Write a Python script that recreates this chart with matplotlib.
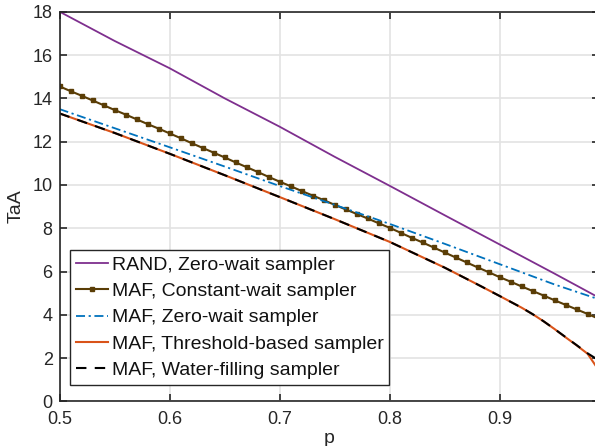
import numpy as np
import matplotlib
matplotlib.use("Agg")
import matplotlib.pyplot as plt

plt.rcParams['font.family'] = ['Liberation Sans', 'DejaVu Sans']

# ---- data ----
p_rand = [0.50, 0.55, 0.60, 0.65, 0.70, 0.75, 0.80, 0.85, 0.90, 0.95, 0.99]
taa_rand = [18.0, 16.65, 15.39, 14.0, 12.69, 11.3, 9.96, 8.6, 7.25, 5.9, 4.8]

p_const = [round(0.50 + 0.01 * i, 2) for i in range(50)]
taa_const = [14.55, 14.33, 14.12, 13.90, 13.68, 13.46, 13.25, 13.03, 12.81, 12.60,
             12.38, 12.16, 11.93, 11.71, 11.49, 11.27, 11.04, 10.82, 10.60, 10.37,
             10.15, 9.94, 9.72, 9.51, 9.30, 9.08, 8.87, 8.66, 8.45, 8.23,
             8.02, 7.79, 7.56, 7.34, 7.11, 6.88, 6.65, 6.42, 6.19, 5.97,
             5.74, 5.53, 5.31, 5.10, 4.89, 4.67, 4.46, 4.25, 4.04, 3.82]

p_zw = [0.50, 0.55, 0.60, 0.65, 0.70, 0.75, 0.80, 0.85, 0.90, 0.95, 0.99]
taa_zw = [13.5, 12.62, 11.74, 10.85, 9.95, 9.08, 8.2, 7.28, 6.34, 5.4, 4.72]

p_thr = [0.50, 0.55, 0.60, 0.65, 0.70, 0.75, 0.80, 0.85, 0.88, 0.90, 0.91,
         0.92, 0.93, 0.94, 0.95, 0.96, 0.97, 0.98, 0.99]
taa_thr = [13.3, 12.4, 11.44, 10.45, 9.44, 8.42, 7.37, 6.18, 5.4, 4.87, 4.6,
           4.33, 4.03, 3.7, 3.34, 2.96, 2.59, 2.2, 1.45]

p_wf = [0.50, 0.55, 0.60, 0.65, 0.70, 0.75, 0.80, 0.85, 0.88, 0.90, 0.91,
        0.92, 0.93, 0.94, 0.95, 0.96, 0.97, 0.98, 0.99]
taa_wf = [13.3, 12.4, 11.44, 10.45, 9.44, 8.42, 7.37, 6.18, 5.4, 4.87, 4.6,
          4.33, 4.03, 3.7, 3.34, 2.97, 2.6, 2.22, 1.9]

labels = ["RAND, Zero-wait sampler", "MAF, Constant-wait sampler",
          "MAF, Zero-wait sampler", "MAF, Threshold-based sampler",
          "MAF, Water-filling sampler"]
xticks = [0.5, 0.6, 0.7, 0.8, 0.9]
yticks = list(range(0, 19, 2))

# ---- figure ----
fig = plt.figure(figsize=(5.95, 4.46), dpi=100)
ax = fig.add_axes([59.6 / 595, 1 - 401.4 / 446, 539 / 595, 389.7 / 446])

ax.plot(p_rand, taa_rand, color='#7E2F8E', lw=1.3, label=labels[0])
ax.plot(p_const, taa_const, color='#5a3d06', lw=1.5, marker='s', ms=2.6,
        label=labels[1])
ax.plot(p_zw, taa_zw, color='#0072BD', lw=1.3, ls=(0, (5, 2, 1.2, 2)),
        label=labels[2])
ax.plot(p_thr, taa_thr, color='#D95319', lw=1.5, label=labels[3])
ax.plot(p_wf, taa_wf, color='black', lw=1.5, ls=(0, (5, 4)), label=labels[4])

ax.set_xlim(0.5, 0.99)
ax.set_ylim(0, 18)
ax.set_xticks(xticks)
ax.set_xticklabels([f"{t:.1f}" for t in xticks])
ax.set_yticks(yticks)
ax.grid(True, color='#e3e3e3', lw=1.2)
ax.set_axisbelow(True)
for s in ax.spines.values():
    s.set_color('#262626')
    s.set_linewidth(1.2)
ax.tick_params(direction='in', top=True, right=True, length=5, width=1.2,
               color='#262626', labelsize=13, labelcolor='#262626')
ax.tick_params(axis='x', pad=7)
ax.tick_params(axis='y', pad=5)
ax.set_xlabel('p', fontsize=14, color='#262626', labelpad=1)
ax.set_ylabel('TaA', fontsize=14, color='#262626', labelpad=6)

leg = ax.legend(loc='lower left', bbox_to_anchor=(0.019, 0.042), fontsize=14,
                frameon=True, fancybox=False, framealpha=1, edgecolor='#262626',
                handlelength=1.65, handletextpad=0.2, labelspacing=0.45,
                borderpad=0.3, borderaxespad=0)
leg.get_frame().set_linewidth(1.0)
for t in leg.get_texts():
    t.set_color('#111111')

fig.savefig('out.png', dpi=100)
